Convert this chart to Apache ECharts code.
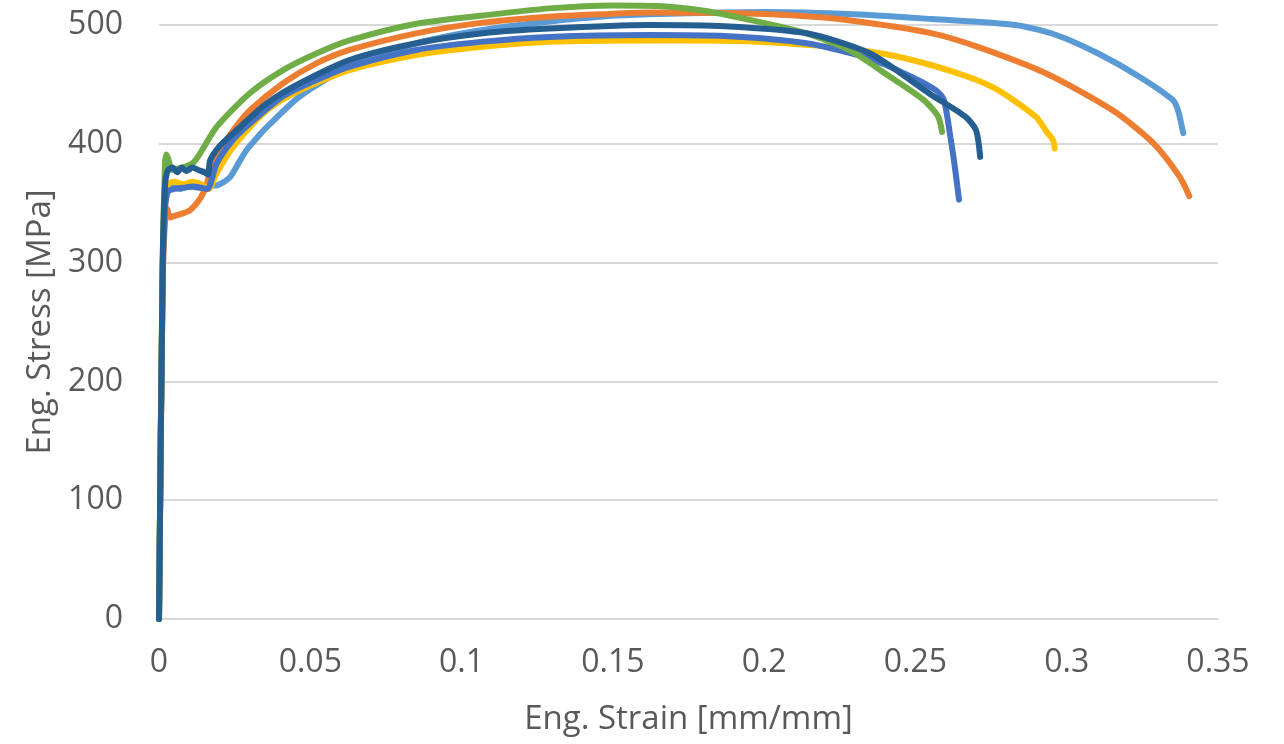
<!DOCTYPE html>
<html>
<head>
<meta charset="utf-8">
<script src="https://cdn.jsdelivr.net/npm/echarts@6/dist/echarts.min.js"></script>
<style>
  html, body { margin: 0; padding: 0; background: #fff; }
  #chart { width: 1284px; height: 744px; }
</style>
</head>
<body>
<div id="chart"></div>
<script>
// [strain mm/mm, stress MPa]
var spec1 = [[0,0],[0.0012,290],[0.002,350],[0.0028,362],[0.004,364],[0.007,362],[0.010,364],[0.013,363],[0.016,365],[0.019,365],[0.0215,368],[0.0235,372],[0.0268,386],[0.029,395],[0.0334,408],[0.0356,414],[0.0466,440],[0.063,465],[0.085,484.6],[0.107,495.8],[0.129,503],[0.1457,507],[0.162,509],[0.2006,511],[0.23,509],[0.2555,505],[0.283,500],[0.2965,491.6],[0.3104,476],[0.324,456.5],[0.335,437],[0.3368,428],[0.3385,409]];
var spec2 = [[0,0],[0.0012,280],[0.002,335],[0.0028,345],[0.0036,338],[0.006,340],[0.0085,342],[0.0102,344],[0.0125,350],[0.0145,358],[0.016,368],[0.0175,380],[0.0205,396],[0.0246,411.6],[0.030,428],[0.041,451],[0.052,467.7],[0.063,479],[0.085,493],[0.107,502],[0.129,507],[0.1457,509],[0.162,510.5],[0.187,510],[0.21,508],[0.228,504],[0.2555,493],[0.2713,481],[0.2934,459],[0.3153,428],[0.3286,400.6],[0.3374,372],[0.3405,356]];
var spec3 = [[0,0],[0.0012,290],[0.002,352],[0.003,366],[0.005,368],[0.008,366],[0.011,368],[0.014,366],[0.0165,362],[0.0175,366],[0.019,375],[0.0246,397.6],[0.0356,428],[0.0466,445],[0.063,462],[0.085,474.7],[0.107,481.7],[0.129,486],[0.162,487],[0.187,486.8],[0.221,482],[0.2416,474.7],[0.2623,460.8],[0.276,447],[0.2897,423],[0.2934,410],[0.2955,403],[0.296,396]];
var spec4 = [[0,0],[0.0012,285],[0.002,345],[0.003,360],[0.005,362],[0.008,363],[0.011,364],[0.014,363],[0.016,362],[0.019,383],[0.024,402],[0.030,417],[0.041,440],[0.052,453.7],[0.063,465],[0.085,479],[0.107,486],[0.129,490],[0.162,491.6],[0.187,490.7],[0.214,484.6],[0.235,471.6],[0.2486,456.5],[0.2568,445],[0.2594,437],[0.2616,405],[0.263,381],[0.2644,353]];
var spec5 = [[0,0],[0.0012,300],[0.002,385],[0.0025,391],[0.0032,386],[0.0042,378],[0.006,379],[0.009,381],[0.0113,384],[0.0136,392],[0.019,414],[0.030,442.5],[0.041,462],[0.052,476],[0.063,487],[0.085,501],[0.107,508],[0.129,514],[0.15,516.5],[0.165,516],[0.18,512],[0.194,505],[0.214,493],[0.228,479],[0.2416,456.5],[0.2527,437],[0.2575,423],[0.2588,410]];
var spec6 = [[0,0],[0.0012,295],[0.002,365],[0.003,378],[0.0045,380],[0.006,376],[0.0075,380],[0.009,377],[0.011,380],[0.013,378],[0.015,376],[0.0162,374],[0.0169,386],[0.020,398],[0.0246,409],[0.0356,434],[0.0466,451],[0.063,470.5],[0.085,484.6],[0.107,493],[0.129,497],[0.162,500],[0.187,499],[0.214,493],[0.235,476],[0.2548,442],[0.2664,423],[0.270,411.6],[0.2714,389]];

var specimens = [spec1, spec2, spec3, spec4, spec5, spec6];
var colors = ['#5B9BD5', '#ED7D31', '#FFC000', '#4472C4', '#70AD47', '#255E91'];

var font = '"Open Sans", sans-serif';
var myChart = echarts.init(document.getElementById('chart'));

var series = [];
for (var i = 0; i < specimens.length; i++) {
    series.push({
        name: 'Specimen ' + (i + 1),
        type: 'line',
        data: specimens[i],
        showSymbol: false,
        clip: false,
        smooth: 0.25,
        lineStyle: { color: colors[i], width: 6, cap: 'round', join: 'round' },
        itemStyle: { color: colors[i] }
    });
}

var option = {
    animation: false,
    grid: { left: 159, right: 66, top: 25, bottom: 125 },
    xAxis: {
        type: 'value',
        min: 0,
        max: 0.35,
        interval: 0.05,
        name: 'Eng. Strain [mm/mm]',
        nameLocation: 'middle',
        nameGap: 84,
        nameTextStyle: { color: '#595959', fontSize: 33, fontFamily: font },
        axisLine: { show: true, lineStyle: { color: '#D9D9D9', width: 2 } },
        axisTick: { show: false },
        splitLine: { show: false },
        axisLabel: { color: '#595959', fontSize: 32, fontFamily: font, margin: 28 }
    },
    yAxis: {
        type: 'value',
        min: 0,
        max: 500,
        interval: 100,
        name: 'Eng. Stress [MPa]',
        nameLocation: 'middle',
        nameGap: 94,
        nameTextStyle: { color: '#595959', fontSize: 33, fontFamily: font },
        axisLine: { show: false },
        axisTick: { show: false },
        splitLine: { lineStyle: { color: '#D9D9D9', width: 2 } },
        axisLabel: { color: '#595959', fontSize: 32, fontFamily: font, margin: 36 }
    },
    series: series
};

myChart.setOption(option);
</script>
</body>
</html>
